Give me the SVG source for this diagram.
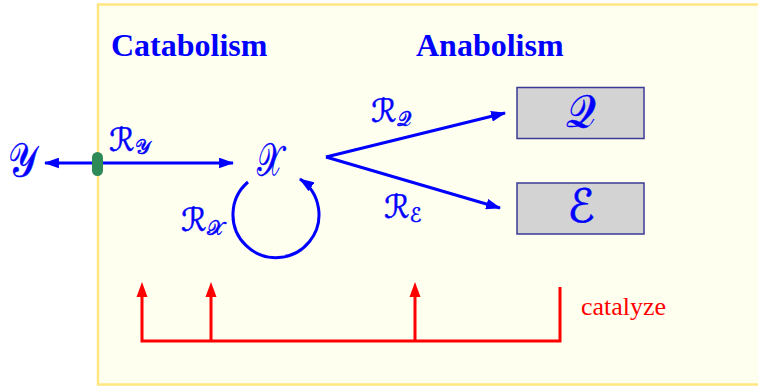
<svg xmlns="http://www.w3.org/2000/svg" width="758" height="387" viewBox="0 0 758 387">
<style>
.title{font-family:"Liberation Serif",serif;font-weight:bold;font-size:32px;fill:#0000ff}
.math{font-family:"DejaVu Serif","DejaVu Sans",serif;font-style:normal;fill:#0000ff;stroke:#0000ff;stroke-width:0.5}
.big{font-size:46px}
.lab{font-size:32px}
.sub{font-size:20px}
.blue{stroke:#0000ff;stroke-width:3;fill:none}
.red{stroke:#ff0000;stroke-width:3;fill:none}
.box{fill:#d3d3d3;stroke:#3a3a96;stroke-width:1.5}
</style>
<defs>
<marker id="ab" viewBox="0 0 14 10" refX="13" refY="5" markerWidth="15" markerHeight="11" markerUnits="userSpaceOnUse" orient="auto-start-reverse">
<path d="M0,0 L14,5 L0,10 Z" fill="#0000ff"/>
</marker>
</defs>
<rect x="98" y="4.5" width="700" height="380" fill="#fffff0" stroke="#ffe680" stroke-width="2.5"/>
<text class="title" x="111" y="56">Catabolism</text>
<text class="title" x="416" y="56">Anabolism</text>
<g id="connectors">
<line class="blue" x1="45" y1="163" x2="233" y2="163" marker-start="url(#ab)" marker-end="url(#ab)"/>
<line class="blue" x1="326" y1="157" x2="505" y2="113" marker-end="url(#ab)"/>
<line class="blue" x1="326" y1="157" x2="500" y2="208" marker-end="url(#ab)"/>
<path class="blue" d="M248,182 A43,43 0 1 0 300,179" marker-end="url(#ab)"/>
<path class="red" d="M142,290 V341 H560 V287 M211,290 V341 M415,290 V341"/>
</g>
<g id="catalysis-arrows" fill="#ff0000">
<path d="M142,282 L147.5,297 L136.5,297 Z"/>
<path d="M211,282 L216.5,297 L205.5,297 Z"/>
<path d="M415,282 L420.5,297 L409.5,297 Z"/>
</g>
<g id="node-Y"><text class="math big" transform="translate(23,176) scale(0.8,1)" text-anchor="middle">𝒴</text></g>
<g id="node-X"><text class="math big" transform="translate(270,176) scale(0.65,1)" text-anchor="middle">𝒳</text></g>
<g id="membrane"><rect x="92" y="152" width="11" height="24" rx="5.5" fill="#2e8b57"/></g>
<g id="node-Q"><rect class="box" x="517" y="87.5" width="127" height="51"/><text class="math big" transform="translate(581,127) scale(0.9,1)" text-anchor="middle">𝒬</text></g>
<g id="node-E"><rect class="box" x="517" y="183" width="127" height="51"/><text class="math big" x="581" y="222" text-anchor="middle">ℰ</text></g>
<g id="labels">
<text class="math lab" x="109" y="151">ℛ<tspan class="sub" dy="3">𝒴</tspan></text>
<text class="math lab" x="181" y="231">ℛ<tspan class="sub" dy="4">𝒳</tspan></text>
<text class="math lab" x="371" y="122">ℛ<tspan class="sub" dy="4">𝒬</tspan></text>
<text class="math lab" x="384" y="218">ℛ<tspan class="sub" dy="4">ℰ</tspan></text>
<text x="581" y="315" font-family="Liberation Serif,serif" font-size="26" fill="#ff0000">catalyze</text>
</g>
</svg>
